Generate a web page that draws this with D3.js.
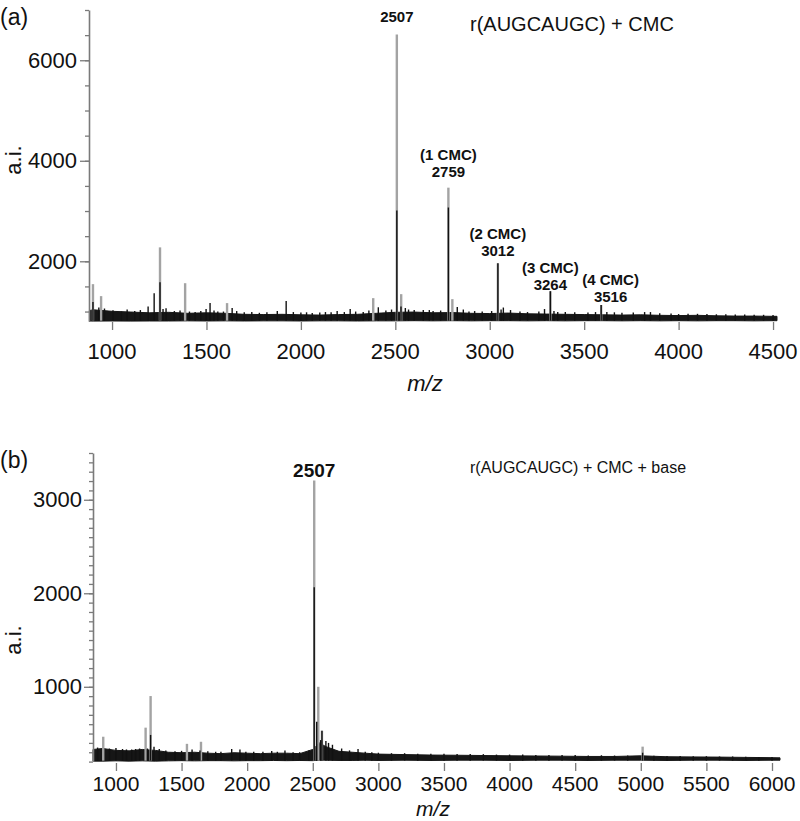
<!DOCTYPE html>
<html><head><meta charset="utf-8">
<script src="https://cdn.jsdelivr.net/npm/d3@7"></script>
<style>body{margin:0;background:#fff} text{font-family:Arial,"Liberation Sans",sans-serif;fill:#111}</style>
</head><body><svg id="c" width="800" height="821"></svg>
<script>
// ---------- Panel (a) data ----------
const aXTicks = [1000,1500,2000,2500,3000,3500,4000,4500];
const aYTicks = [2000,4000,6000];
const aBandMz = [880,900,1000,1100,1200,1300,1400,1500,1600,1700,1800,1900,2000,2100,2200,2300,2400,2500,2600,2700,2800,2900,3000,3100,3200,3300,3400,3500,3600,3700,3800,3900,4000,4100,4200,4300,4400,4500,4521];
const aBandHi = [1020,1035,1005,990,975,985,965,975,965,945,940,945,935,930,940,945,965,985,990,975,980,965,960,970,955,950,945,940,935,930,935,925,920,925,915,910,910,905,905];
const aBandLo = [812,810,812,810,812,812,815,812,815,812,815,815,812,815,815,812,815,815,818,815,818,815,818,818,815,818,815,818,818,815,818,815,818,815,818,818,815,818,818];
const aGrayMz = [899,942,1254,1387,1609,2383,2508,2531,2781,2802,3043,3321,3590];
const aGrayI  = [1545,1307,2277,1564,1168,1267,6515,1346,3465,1247,1960,1405,1130];
const aBlackMz = [899,930,960,1005,1050,1080,1120,1150,1191,1223,1254,1270,1286,1330,1360,1410,1440,1470,1498,1519,1540,1560,1590,1636,1660,1700,1740,1780,1820,1875,1922,1960,2000,2030,2060,2100,2130,2160,2192,2230,2261,2290,2330,2360,2410,2450,2480,2508,2530,2553,2570,2600,2648,2680,2700,2740,2781,2828,2860,2890,2920,2960,3010,3043,3060,3072,3110,3160,3200,3260,3290,3321,3340,3360,3400,3450,3520,3560,3590,3620,3660,3700,3760,3820,3851,3900,3960,4000,4050,4100,4150,4200,4250,4300,4350,4400,4450,4500];
const aBlackI  = [1190,1080,1060,1025,1000,1040,1010,1030,1100,1366,1584,1050,1065,1010,1020,1000,990,1010,1050,1168,1020,1000,1000,1070,1010,985,990,975,985,1010,1208,990,980,985,970,980,990,985,1010,990,1050,1000,990,1020,1085,1020,1040,3010,1100,1070,1040,1030,1030,1030,1010,1020,3070,1090,1040,1000,1010,1000,1010,1960,1040,1080,1030,1000,990,1000,1050,1405,1010,990,990,985,980,990,1130,990,985,975,980,990,990,965,960,950,955,955,950,945,945,940,940,935,935,930];
const aLabelTop = ["", "(1 CMC)", "(2 CMC)", "(3 CMC)", "(4 CMC)"];
const aLabelNum = ["2507", "2759", "3012", "3264", "3516"];
const aLabelMz  = [2508, 2781, 3043, 3321, 3640];
const aLabelI   = [6880, 3777, 2205, 1548, 1290];
const aTitle = "r(AUGCAUGC) + CMC";

// ---------- Panel (b) data ----------
const bXTicks = [1000,1500,2000,2500,3000,3500,4000,4500,5000,5500,6000];
const bYTicks = [1000,2000,3000];
const bBandMz = [825,900,1000,1100,1200,1300,1400,1500,1600,1700,1800,1900,2000,2100,2200,2300,2400,2500,2550,2600,2700,2800,2900,3000,3200,3400,3600,3800,4000,4200,4400,4600,4800,5000,5200,5400,5600,5800,6000,6061];
const bBandHi = [330,340,320,315,330,320,300,295,300,290,285,295,290,285,290,290,285,330,400,360,310,300,290,280,275,270,268,265,262,260,258,255,255,262,252,250,248,245,242,240];
const bBandLo = [205,205,208,205,208,205,208,210,208,210,210,208,210,210,212,210,212,210,215,215,212,212,215,212,215,212,215,215,212,215,215,212,215,215,212,215,215,212,215,215];
const bGrayMz = [903,1226,1264,1541,1648,2511,2542,2570,5014];
const bGrayI  = [466,563,901,390,412,3206,1000,530,360];
const bBlackMz = [860,950,1000,1050,1080,1120,1150,1180,1240,1264,1290,1330,1380,1450,1500,1580,1640,1700,1760,1800,1882,1945,1990,2050,2120,2187,2230,2288,2350,2400,2470,2511,2530,2560,2570,2600,2620,2650,2720,2780,2845,2900,2950,3000,3100,3200,3300,3400,3500,3600,3700,3800,3900,4000,4100,4200,4300,4400,4500,4600,4700,4800,4900,5014,5100,5200,5300,5400,5500,5600,5700,5800,5900,6000];
const bBlackI  = [350,340,345,335,330,330,335,340,340,485,360,335,320,310,315,330,320,310,305,305,335,330,305,305,305,313,305,320,300,300,320,2064,625,430,530,420,400,380,340,320,335,305,300,295,290,290,285,285,285,280,280,280,275,275,275,270,270,270,270,265,268,265,265,295,262,260,260,258,258,255,255,252,250,250];
const bLabelNum = ["2507"];
const bLabelMz  = [2511];
const bLabelI   = [3310];
const bTitle = "r(AUGCAUGC) + CMC + base";

const svg = d3.select("#c");

function range100(a,b,s){const r=[];for(let v=a;v<=b;v+=s)r.push(v);return r;}

function panel(o){
  const x = d3.scaleLinear().domain(o.xDom).range(o.xRange);
  const y = d3.scaleLinear().domain(o.yDom).range(o.yRange);
  const g = svg.append("g");

  const band = o.bandMz.map((m,i)=>({m,hi:o.bandHi[i],lo:o.bandLo[i]}));
  g.append("path").datum(band)
    .attr("d", d3.area().x(d=>x(d.m)).y0(d=>y(d.lo)).y1(d=>y(d.hi)))
    .attr("fill","#161616").attr("stroke","#161616").attr("stroke-width",1);

  g.selectAll(null).data(o.grayMz.map((m,i)=>({m,v:o.grayI[i]}))).join("line")
    .attr("x1",d=>x(d.m)).attr("x2",d=>x(d.m))
    .attr("y1",y(o.base)).attr("y2",d=>y(d.v))
    .attr("stroke","#a3a3a3").attr("stroke-width",2.4);
  g.selectAll(null).data(o.blackMz.map((m,i)=>({m,v:o.blackI[i]}))).join("line")
    .attr("x1",d=>x(d.m)).attr("x2",d=>x(d.m))
    .attr("y1",y(o.base)).attr("y2",d=>y(d.v))
    .attr("stroke","#111").attr("stroke-width",1.4);

  const xa = g.append("g").attr("transform",`translate(0,${o.xAxisY})`);
  xa.call(d3.axisBottom(x).tickValues(o.xMinor).tickSize(4).tickFormat(""));
  xa.call(d3.axisBottom(x).tickValues(o.xTicks).tickSize(8).tickFormat(""));
  xa.selectAll(".domain").remove();
  xa.selectAll("line").attr("stroke","#7a7a7a").attr("stroke-width",1.3);
  g.selectAll(null).data(o.xTicks).join("text")
    .attr("x",d=>x(d)).attr("y",o.xLabelY)
    .attr("text-anchor","middle").attr("dominant-baseline","central")
    .attr("font-size",o.tickSize).text(d=>d);

  const ya = g.append("g").attr("transform",`translate(${o.xRange[0]},0)`);
  ya.call(d3.axisLeft(y).tickValues(o.yMinor).tickSize(4).tickSizeOuter(0).tickFormat(""));
  const ya2 = g.append("g").attr("transform",`translate(${o.xRange[0]},0)`);
  ya2.call(d3.axisLeft(y).tickValues(o.yTicks).tickSize(9).tickSizeOuter(0).tickFormat(""));
  ya2.select(".domain").remove();
  ya.select(".domain").attr("stroke","#7a7a7a").attr("stroke-width",1.6);
  g.selectAll(".tick line").attr("stroke","#7a7a7a").attr("stroke-width",1.3);
  g.selectAll(null).data(o.yTicks).join("text")
    .attr("x",o.yLabelX).attr("y",d=>y(d))
    .attr("text-anchor","end").attr("dominant-baseline","central")
    .attr("font-size",22).text(d=>d);

  g.append("text").attr("x",o.mzPos[0]).attr("y",o.mzPos[1])
    .attr("text-anchor","middle").attr("dominant-baseline","central")
    .attr("font-size",o.mzSize).attr("font-style","italic").text("m/z");
  g.append("text").attr("transform",`translate(${o.aiPos[0]},${o.aiPos[1]}) rotate(-90)`)
    .attr("text-anchor","middle").attr("dominant-baseline","central")
    .attr("font-size",22).text("a.i.");
  g.append("text").attr("x",0).attr("y",o.letterY)
    .attr("dominant-baseline","central").attr("font-size",23).text(o.letter);
  g.append("text").attr("x",o.titlePos[0]).attr("y",o.titlePos[1])
    .attr("dominant-baseline","central").attr("font-size",o.titleSize).text(o.title);

  o.labelNum.forEach((t,i)=>{
    const lx = x(o.labelMz[i]), ly = y(o.labelI[i]);
    g.append("text").attr("x",lx).attr("y",ly).attr("text-anchor","middle")
      .attr("dominant-baseline","central").attr("font-weight","bold")
      .attr("font-size",o.labelSize).text(t);
    if (o.labelTop && o.labelTop[i]) {
      g.append("text").attr("x",lx).attr("y",ly-17).attr("text-anchor","middle")
        .attr("dominant-baseline","central").attr("font-weight","bold")
        .attr("font-size",o.labelSize).text(o.labelTop[i]);
    }
  });
}

panel({
  xDom:[878,4521], xRange:[89,777], yDom:[800,7000], yRange:[321.6,10],
  bandMz:aBandMz, bandHi:aBandHi, bandLo:aBandLo, base:818,
  grayMz:aGrayMz, grayI:aGrayI, blackMz:aBlackMz, blackI:aBlackI,
  xTicks:aXTicks, xMinor:range100(900,4500,100), xAxisY:322, xLabelY:351, tickSize:22,
  yTicks:aYTicks, yMinor:range100(1000,7000,500), yLabelX:77,
  mzPos:[425,383], mzSize:22, aiPos:[13,160], letter:"(a)", letterY:17,
  title:aTitle, titlePos:[470,24], titleSize:20,
  labelNum:aLabelNum, labelTop:aLabelTop, labelMz:aLabelMz, labelI:aLabelI, labelSize:15
});

panel({
  xDom:[825,6061], xRange:[93,780], yDom:[200,3500], yRange:[761.6,453],
  bandMz:bBandMz, bandHi:bBandHi, bandLo:bBandLo, base:210,
  grayMz:bGrayMz, grayI:bGrayI, blackMz:bBlackMz, blackI:bBlackI,
  xTicks:bXTicks, xMinor:range100(900,6000,100), xAxisY:763, xLabelY:783, tickSize:21,
  yTicks:bYTicks, yMinor:range100(200,3500,100), yLabelX:82,
  mzPos:[433,808], mzSize:21, aiPos:[13,640], letter:"(b)", letterY:460,
  title:bTitle, titlePos:[470,467], titleSize:16,
  labelNum:bLabelNum, labelTop:null, labelMz:bLabelMz, labelI:bLabelI, labelSize:19
});
</script></body></html>
